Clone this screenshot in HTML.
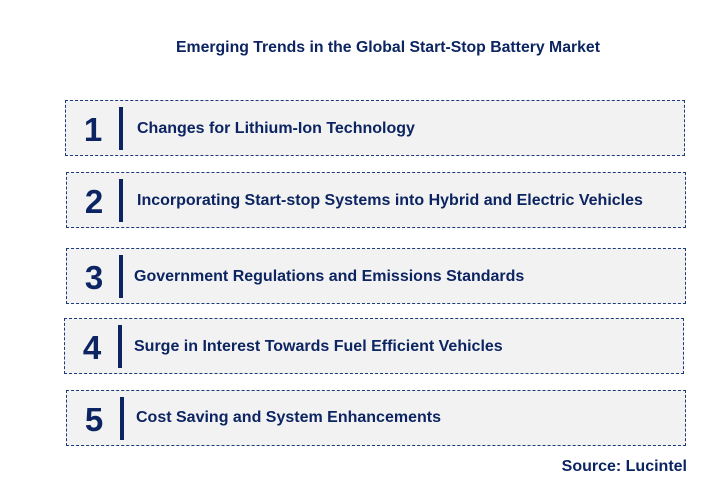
<!DOCTYPE html>
<html><head><meta charset="utf-8"><style>
body{margin:0;width:712px;height:501px;background:#fff;font-family:"Liberation Sans",Arial,sans-serif;position:relative;overflow:hidden;color:#0c2461}
.t{position:absolute;top:39px;left:0;width:712px;text-align:center;padding-left:64px;box-sizing:border-box;font-size:15.8px;font-weight:bold;color:#0c2461}
.box{position:absolute;width:620px;height:56px;background:#f2f2f2;border:1px dashed #1f3a7a;box-sizing:border-box}
.num{position:absolute;font-size:33px;font-weight:bold;width:30px;text-align:center}
.bar{position:absolute;width:4px;height:43px;background:#0c2461}
.lbl{position:absolute;font-size:16px;font-weight:bold;white-space:nowrap}
.src{position:absolute;right:25px;top:458px;font-size:16px;font-weight:bold}
</style></head><body>
<div class="t">Emerging Trends in the Global Start-Stop Battery Market</div>
<div><div class="box" style="left:65px;top:100px"></div><div class="num" style="left:78px;top:111px">1</div><div class="bar" style="left:119px;top:107px"></div><div class="lbl" style="left:137px;top:120px">Changes for Lithium-Ion Technology</div></div>
<div><div class="box" style="left:66px;top:172px"></div><div class="num" style="left:79px;top:183px">2</div><div class="bar" style="left:119px;top:179px"></div><div class="lbl" style="left:137px;top:192px">Incorporating Start-stop Systems into Hybrid and Electric Vehicles</div></div>
<div><div class="box" style="left:66px;top:248px"></div><div class="num" style="left:79px;top:259px">3</div><div class="bar" style="left:119px;top:255px"></div><div class="lbl" style="left:134px;top:268px">Government Regulations and Emissions Standards</div></div>
<div><div class="box" style="left:64px;top:318px"></div><div class="num" style="left:77px;top:329px">4</div><div class="bar" style="left:118px;top:325px"></div><div class="lbl" style="left:134px;top:338px">Surge in Interest Towards Fuel Efficient Vehicles</div></div>
<div><div class="box" style="left:66px;top:390px"></div><div class="num" style="left:79px;top:401px">5</div><div class="bar" style="left:120px;top:397px"></div><div class="lbl" style="left:136px;top:409px">Cost Saving and System Enhancements</div></div>
<div class="src">Source: Lucintel</div>
</body></html>
